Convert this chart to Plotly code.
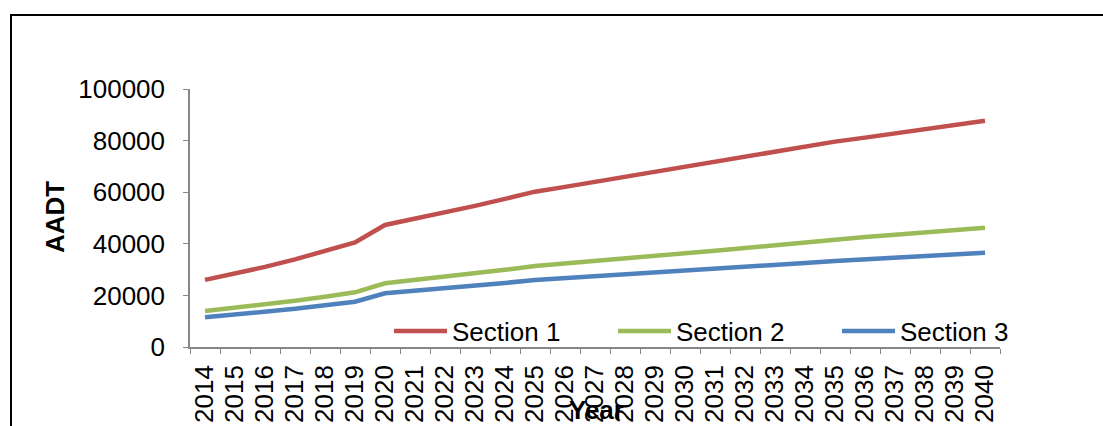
import plotly.graph_objects as go

years = [str(y) for y in range(2014, 2041)]
section1 = [26000, 28400, 31050, 33950, 37100, 40560, 47300, 49700, 52100, 54700, 57400, 60200,
            62070, 64000, 66000, 68050, 70150, 71950, 73790, 75680, 77620, 79600,
            81160, 82750, 84370, 86020, 87700]
section2 = [13950, 15170, 16490, 17930, 19500, 21200, 24680, 25900, 27180, 28520, 29930, 31400,
            32320, 33270, 34250, 35260, 36300, 37330, 38380, 39470, 40590, 41740,
            42600, 43480, 44380, 45310, 46250]
section3 = [11500, 12520, 13620, 14830, 16140, 17570, 20800, 21740, 22730, 23760, 24840, 25970,
            26660, 27360, 28090, 28830, 29590, 30300, 31040, 31780, 32550, 33330,
            33950, 34590, 35240, 35890, 36560]
y_ticks = [0, 20000, 40000, 60000, 80000, 100000]

names = ["Section 1", "Section 2", "Section 3"]
colors = ["#C0504D", "#9BBB59", "#4F81BD"]
series = [section1, section2, section3]

FONT = "Arial, Liberation Sans, sans-serif"

fig = go.Figure()
for name, vals, col in zip(names, series, colors):
    fig.add_trace(go.Scatter(x=years, y=vals, mode="lines", name=name,
                             line=dict(color=col, width=4.5)))

W, H = 1103, 426
L, R, T, B = 190, 103, 89, 79
pw, ph = W - L - R, H - T - B

def px_x(p):
    return (p - L) / pw

def px_y(p):
    return (H - B - p) / ph

fig.update_layout(
    width=W, height=H,
    margin=dict(l=L, r=R, t=T, b=B, autoexpand=False),
    paper_bgcolor="white", plot_bgcolor="white",
    font=dict(family=FONT, size=26, color="black"),
    showlegend=True,
    legend=dict(orientation="h", x=px_x(389), y=px_y(331), xanchor="left", yanchor="middle",
                entrywidth=156, entrywidthmode="pixels", itemwidth=53,
                bgcolor="rgba(0,0,0,0)", font=dict(size=26, family=FONT),
                traceorder="normal"),
    xaxis=dict(type="category", tickmode="linear", dtick=1, tickangle=-90,
               range=[-0.5, len(years) - 0.5], automargin=False,
               ticks="outside", ticklen=5, tickcolor="#868686", tickson="boundaries",
               ticklabelstandoff=6,
               showline=True, linecolor="#868686", linewidth=1.5, showgrid=False,
               zeroline=False, tickfont=dict(size=26, family=FONT), fixedrange=True),
    yaxis=dict(range=[0, 100000], tickvals=y_ticks, tickformat="d", automargin=False,
               ticks="outside", ticklen=5, tickcolor="#868686",
               ticklabelstandoff=13,
               showline=True, linecolor="#868686", linewidth=1.5, showgrid=False,
               zeroline=False, tickfont=dict(size=26, family=FONT), fixedrange=True),
    shapes=[dict(type="rect", xref="paper", yref="paper",
                 x0=px_x(11), x1=px_x(1200), y0=px_y(600), y1=px_y(15),
                 line=dict(color="black", width=2), fillcolor="rgba(0,0,0,0)", layer="below")],
    annotations=[
        dict(text="<b>AADT</b>", xref="paper", yref="paper", x=px_x(55), y=px_y(217),
             textangle=-90, showarrow=False, xanchor="center", yanchor="middle",
             font=dict(size=26, family=FONT)),
        dict(text="<b>Year</b>", xref="paper", yref="paper", x=px_x(596), y=px_y(410),
             showarrow=False, xanchor="center", yanchor="middle",
             font=dict(size=26, family=FONT)),
    ],
)

fig.write_html("out.html")
